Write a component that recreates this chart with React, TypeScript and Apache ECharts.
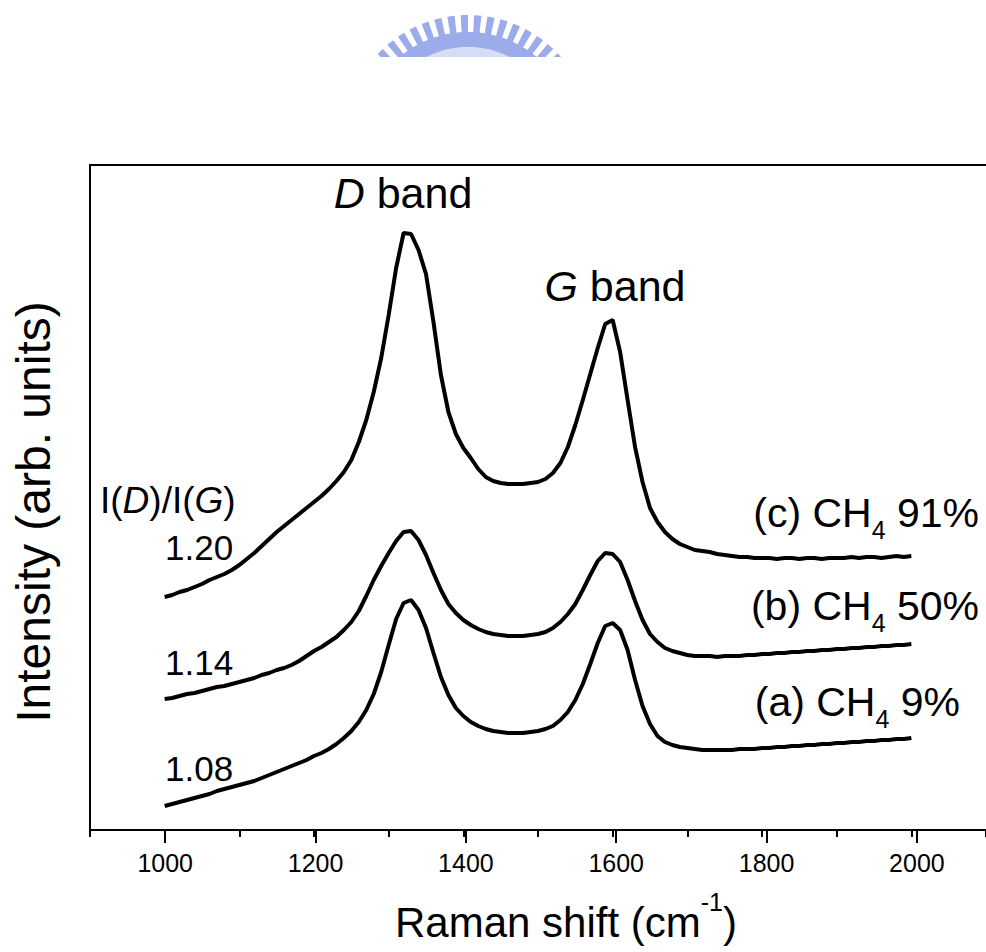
import React, { useEffect, useRef } from 'react';
import * as echarts from 'echarts';

// Raman shift (cm^-1)
const ramanShift = [
  1000, 1010, 1020, 1030, 1040, 1050, 1060, 1070, 1080, 1090,
  1100, 1110, 1120, 1130, 1140, 1150, 1160, 1170, 1180, 1190,
  1200, 1210, 1220, 1230, 1240, 1250, 1260, 1270, 1280, 1290,
  1300, 1310, 1320, 1330, 1340, 1350, 1360, 1370, 1380, 1390,
  1400, 1410, 1420, 1430, 1440, 1450, 1460, 1470, 1480, 1490,
  1500, 1510, 1520, 1530, 1540, 1550, 1560, 1570, 1580, 1590,
  1600, 1610, 1620, 1630, 1640, 1650, 1660, 1670, 1680, 1690,
  1700, 1710, 1720, 1730, 1740, 1750, 1760, 1770, 1780, 1790,
  1800, 1810, 1820, 1830, 1840, 1850, 1860, 1870, 1880, 1890,
  1900, 1910, 1920, 1930, 1940, 1950, 1960, 1970, 1980, 1990,
  2000,
];

// (c) CH4 91%  (offset intensity, arb. units)
const ch4_91 = [
  233, 235, 238, 240, 243, 246, 250, 253, 256, 260,
  265, 271, 277, 284, 291, 298, 304, 310, 316, 322,
  328, 334, 341, 349, 358, 370, 388, 410, 438, 472,
  515, 562, 597, 596, 580, 556, 508, 455, 418, 396,
  382, 372, 361, 353, 349, 347, 346, 346, 346, 347,
  348, 351, 357, 367, 383, 405, 430, 456, 482, 506,
  510, 478, 430, 383, 348, 322, 308, 298, 291, 286,
  283, 280, 279, 278, 276, 275, 274, 273, 273, 272,
  272, 272, 271, 272, 272, 271, 272, 272, 271, 272,
  272, 272, 273, 272, 273, 273, 272, 273, 274, 273,
  274,
];

// (b) CH4 50%
const ch4_50 = [
  131, 132, 134, 136, 137, 139, 141, 143, 144, 146,
  148, 150, 152, 155, 157, 160, 162, 165, 169, 174,
  179, 183, 188, 193, 200, 208, 219, 234, 250, 264,
  277, 289, 298, 299, 290, 275, 257, 240, 226, 217,
  210, 205, 201, 198, 196, 195, 194, 194, 194, 195,
  196, 198, 202, 208, 216, 226, 240, 255, 269, 277,
  276, 268, 250, 229, 210, 196, 188, 182, 179, 177,
  175, 174, 174, 174, 173, 174, 174, 174, 175, 175,
  176, 176, 177, 177, 178, 178, 179, 179, 180, 180,
  181, 181, 182, 182, 183, 183, 184, 184, 185, 185,
  186,
];

// (a) CH4 9%
const ch4_9 = [
  24, 26, 28, 30, 32, 34, 36, 39, 41, 43,
  45, 47, 49, 52, 55, 58, 61, 64, 67, 70,
  74, 77, 81, 86, 92, 99, 108, 120, 136, 158,
  185, 211, 227, 230, 220, 202, 177, 153, 135, 122,
  114, 108, 104, 101, 99, 98, 97, 97, 97, 98,
  99, 101, 104, 110, 118, 130, 146, 166, 187, 204,
  207, 200, 180, 150, 124, 106, 94, 88, 85, 83,
  82, 81, 80, 80, 80, 80, 80, 81, 81, 81,
  82, 82, 83, 83, 84, 84, 85, 85, 86, 86,
  87, 87, 88, 88, 89, 89, 90, 90, 91, 91,
  92,
];

const xTickLabels = [1000, 1200, 1400, 1600, 1800, 2000];
const ratioLabels = ['1.20', '1.14', '1.08'];
const samplePrefixes = ['(c) CH', '(b) CH', '(a) CH'];
const sampleSuffixes = [' 91%', ' 50%', ' 9%'];

const FONT = '"Liberation Sans", Arial, Helvetica, sans-serif';

function measure(text: string, size: number, style = 'normal'): number {
  const ctx = document.createElement('canvas').getContext('2d');
  if (!ctx) return text.length * size * 0.55;
  ctx.font = `${style} ${size}px ${FONT}`;
  return ctx.measureText(text).width;
}

function txt(text: string, x: number, y: number, size: number, opts: any = {}) {
  const align = opts.align || 'left';
  const valign = opts.valign || 'middle';
  return {
    type: 'text',
    x,
    y,
    rotation: opts.rotation || 0,
    z: 10,
    style: {
      text,
      fontSize: size,
      fontFamily: FONT,
      fontStyle: opts.italic ? 'italic' : 'normal',
      fill: '#000',
      textAlign: align,
      textVerticalAlign: valign,
      align,
      verticalAlign: valign,
    },
  };
}

type Pt = [number, number];

function clipBelow(points: Pt[], yMax: number): Pt[] {
  const out: Pt[] = [];
  for (let i = 0; i < points.length; i++) {
    const a = points[i];
    const b = points[(i + 1) % points.length];
    const ain = a[1] <= yMax;
    const bin = b[1] <= yMax;
    if (ain) out.push(a);
    if (ain !== bin) {
      const t = (yMax - a[1]) / (b[1] - a[1]);
      out.push([a[0] + t * (b[0] - a[0]), yMax]);
    }
  }
  return out;
}

function arcPoints(cx: number, cy: number, r: number, d0: number, d1: number, n: number): Pt[] {
  const pts: Pt[] = [];
  for (let i = 0; i <= n; i++) {
    const a = ((d0 + ((d1 - d0) * i) / n) * Math.PI) / 180;
    pts.push([cx + r * Math.cos(a), cy + r * Math.sin(a)]);
  }
  return pts;
}

function buildWatermark() {
  const g: any[] = [];
  const cx = 468;
  const cy = 139;
  const cut = 57;
  const blue = '#9cacea';
  const light = '#d5dcf6';
  const inner = clipBelow(arcPoints(cx, cy, 92, 180, 360, 60), cut);
  if (inner.length > 2) g.push({ type: 'polygon', z: 1, shape: { points: inner }, style: { fill: light } });
  const band = clipBelow(
    [...arcPoints(cx, cy, 107, 180, 360, 80), ...arcPoints(cx, cy, 92, 360, 180, 80)],
    cut,
  );
  if (band.length > 2) g.push({ type: 'polygon', z: 1, shape: { points: band }, style: { fill: blue } });
  for (let a = 186; a <= 354; a += 6.2) {
    const quad: Pt[] = [
      ...arcPoints(cx, cy, 124, a, a + 3.4, 2),
      ...arcPoints(cx, cy, 105, a + 3.4, a, 2),
    ];
    const tooth = clipBelow(quad, cut);
    if (tooth.length > 2) g.push({ type: 'polygon', z: 1, shape: { points: tooth }, style: { fill: blue } });
  }
  return g;
}

function buildGraphics() {
  const g: any[] = buildWatermark();

  // D band / G band
  const dSize = 43;
  const bW = measure(' band', dSize);
  const dW = measure('D', dSize, 'italic');
  const dStart = 403 - (dW + bW) / 2;
  g.push(txt('D', dStart, 193, dSize, { italic: true }));
  g.push(txt(' band', dStart + dW, 193, dSize));
  const gW = measure('G', dSize, 'italic');
  const gStart = 615 - (gW + bW) / 2;
  g.push(txt('G', gStart, 286, dSize, { italic: true }));
  g.push(txt(' band', gStart + gW, 286, dSize));

  // I(D)/I(G)
  const rSize = 37;
  const parts: [string, boolean][] = [['I(', false], ['D', true], [')/I(', false], ['G', true], [')', false]];
  let px = 100;
  for (const [t, it] of parts) {
    g.push(txt(t, px, 500, rSize, { italic: it }));
    px += measure(t, rSize, it ? 'italic' : 'normal');
  }
  const ratioY = [547, 662, 768];
  ratioLabels.forEach((t, i) => g.push(txt(t, 165, ratioY[i], 35)));

  // sample labels
  const sSize = 41;
  const subSize = 25;
  const sampleY = [513, 606, 702];
  const rightEdge = [979, 979, 960];
  samplePrefixes.forEach((pre, i) => {
    const w1 = measure(pre, sSize);
    const w2 = measure('4', subSize);
    const w3 = measure(sampleSuffixes[i], sSize);
    const start = rightEdge[i] - (w1 + w2 + w3);
    g.push(txt(pre, start, sampleY[i], sSize));
    g.push(txt('4', start + w1, sampleY[i] + 17, subSize));
    g.push(txt(sampleSuffixes[i], start + w1 + w2, sampleY[i], sSize));
  });

  // axis titles
  const tSize = 42;
  const supSize = 25;
  const t1 = 'Raman shift (cm';
  const w1 = measure(t1, tSize);
  const w2 = measure('-1', supSize);
  const w3 = measure(')', tSize);
  const start = 566 - (w1 + w2 + w3) / 2;
  g.push(txt(t1, start, 922, tSize));
  g.push(txt('-1', start + w1, 902, supSize));
  g.push(txt(')', start + w1 + w2, 922, tSize));

  g.push(txt('Intensity (arb. units)', 33, 512, 48, { align: 'center', rotation: Math.PI / 2 }));
  return g;
}

export default function App() {
  const ref = useRef<HTMLDivElement>(null);

  useEffect(() => {
    if (!ref.current) return;
    const chart = echarts.init(ref.current, undefined, { renderer: 'svg' });
    const mk = (vals: number[]) => ramanShift.map((x, i) => [x, vals[i]]);
    const lineSeries = (name: string, vals: number[]) => ({
      name,
      type: 'line',
      xAxisIndex: 0,
      yAxisIndex: 0,
      data: mk(vals),
      showSymbol: false,
      symbol: 'none',
      smooth: false,
      lineStyle: { color: '#000', width: 4 },
      z: 5,
    });
    const axisLineStyle = { color: '#000', width: 2 };
    chart.setOption({
      animation: false,
      backgroundColor: '#fff',
      grid: [
        { left: 90, right: -6, top: 165, bottom: 122, containLabel: false },
        { left: 165.2, right: 69.1, top: 165, bottom: 122, containLabel: false },
      ],
      xAxis: [
        {
          type: 'value',
          gridIndex: 0,
          min: 900,
          max: 2100,
          interval: 100,
          axisLine: { show: true, onZero: false, lineStyle: axisLineStyle },
          axisTick: { show: true, inside: false, length: 7, lineStyle: axisLineStyle },
          axisLabel: { show: false },
          splitLine: { show: false },
        },
        {
          type: 'value',
          gridIndex: 0,
          position: 'top',
          min: 900,
          max: 2100,
          axisLine: { show: true, onZero: false, lineStyle: axisLineStyle },
          axisTick: { show: false },
          axisLabel: { show: false },
          splitLine: { show: false },
        },
        {
          type: 'value',
          gridIndex: 1,
          min: xTickLabels[0],
          max: xTickLabels[xTickLabels.length - 1],
          interval: xTickLabels[1] - xTickLabels[0],
          axisLine: { show: false },
          axisTick: { show: true, inside: false, length: 13, lineStyle: axisLineStyle },
          axisLabel: {
            show: true,
            margin: 20,
            fontSize: 25,
            fontFamily: FONT,
            color: '#000',
            formatter: (v: number) => String(v),
          },
          splitLine: { show: false },
        },
      ],
      yAxis: [
        {
          type: 'value',
          gridIndex: 0,
          min: 0,
          max: 665,
          axisLine: { show: true, onZero: false, lineStyle: axisLineStyle },
          axisTick: { show: false },
          axisLabel: { show: false },
          splitLine: { show: false },
        },
        {
          type: 'value',
          gridIndex: 1,
          min: 0,
          max: 665,
          show: false,
        },
      ],
      series: [
        lineSeries('(c) CH4 91%', ch4_91),
        lineSeries('(b) CH4 50%', ch4_50),
        lineSeries('(a) CH4 9%', ch4_9),
      ],
      graphic: buildGraphics(),
    });
    return () => chart.dispose();
  }, []);

  return (
    <div
      ref={ref}
      style={{ position: 'fixed', left: 0, top: 0, width: 986, height: 952, background: '#fff' }}
    />
  );
}
